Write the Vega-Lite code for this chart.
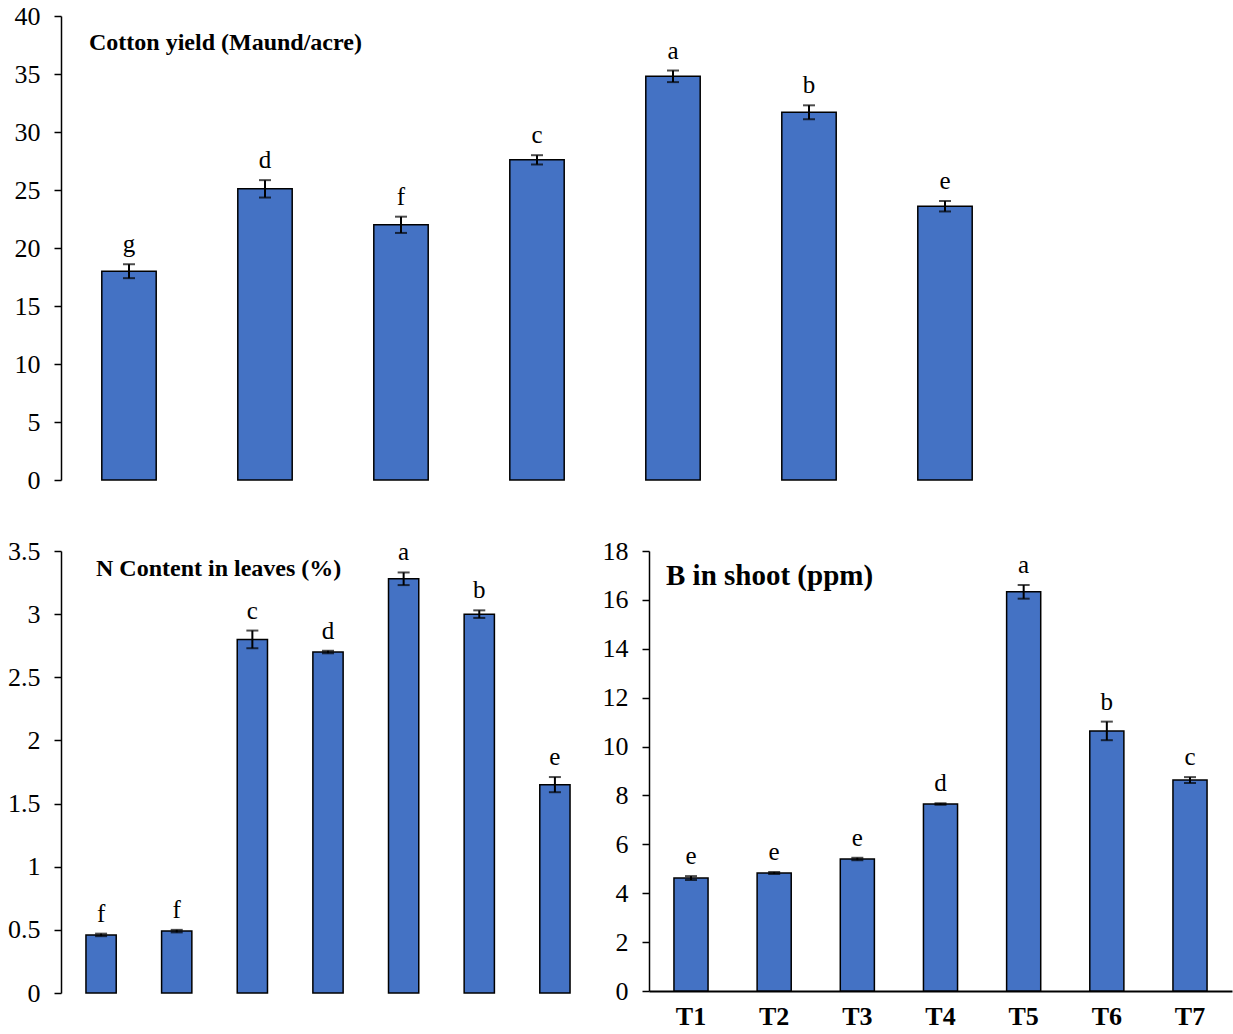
{
  "$schema": "https://vega.github.io/schema/vega-lite/v6.json",
  "background": "white",
  "padding": {"left": 5, "top": 3, "right": 5, "bottom": 5},
  "config": {
    "view": {"stroke": null},
    "font": "Liberation Serif",
    "axis": {"grid": false, "labelFont": "Liberation Serif", "labelColor": "black", "domainColor": "black", "tickColor": "black", "domainWidth": 1.5, "tickWidth": 1.5},
    "title": {"font": "Liberation Serif", "fontWeight": "bold", "color": "black", "anchor": "start", "frame": "group", "orient": "top"}
  },
  "spacing": 45,
  "vconcat": [
    {
      "width": 952,
      "height": 464,
      "title": {"text": "Cotton yield (Maund/acre)", "fontSize": 24, "dx": 28, "offset": -52},
      "data": {"values": [
        {"t": "T1", "v": 18.0, "e": 0.6, "l": "g"},
        {"t": "T2", "v": 25.1, "e": 0.75, "l": "d"},
        {"t": "T3", "v": 22.0, "e": 0.7, "l": "f"},
        {"t": "T4", "v": 27.6, "e": 0.4, "l": "c"},
        {"t": "T5", "v": 34.8, "e": 0.5, "l": "a"},
        {"t": "T6", "v": 31.7, "e": 0.6, "l": "b"},
        {"t": "T7", "v": 23.6, "e": 0.45, "l": "e"}
      ]},
      "transform": [{"calculate": "datum.v - datum.e", "as": "lo"}, {"calculate": "datum.v + datum.e", "as": "hi"}],
      "encoding": {
        "x": {"field": "t", "type": "nominal", "scale": {"paddingInner": 0.6, "paddingOuter": 0.3}, "axis": null}
      },
      "layer": [
        {"mark": {"type": "bar", "color": "#4472C4", "stroke": "black", "strokeWidth": 1.5},
         "encoding": {"y": {"field": "v", "type": "quantitative", "scale": {"domain": [0, 40]},
           "axis": {"title": null, "values": [0,5,10,15,20,25,30,35,40], "format": "~g", "labelFontSize": 26, "tickSize": 7, "labelPadding": 14, "minExtent": 56, "maxExtent": 56}}}},
        {"mark": {"type": "rule", "color": "black", "strokeWidth": 2},
         "encoding": {"y": {"field": "lo", "type": "quantitative"}, "y2": {"field": "hi"}}},
        {"mark": {"type": "tick", "color": "black", "size": 12, "thickness": 2},
         "encoding": {"y": {"field": "lo", "type": "quantitative"}}},
        {"mark": {"type": "tick", "color": "black", "size": 12, "thickness": 2},
         "encoding": {"y": {"field": "hi", "type": "quantitative"}}},
        {"mark": {"type": "text", "fontSize": 25, "baseline": "alphabetic", "dy": -12, "color": "black"},
         "encoding": {"y": {"field": "hi", "type": "quantitative"}, "text": {"field": "l"}}}
      ]
    },
    {
      "spacing": 7,
      "hconcat": [
        {
          "width": 534,
          "height": 442,
          "title": {"text": "N Content in leaves (%)", "fontSize": 24, "dx": 35, "offset": -43},
          "data": {"values": [
            {"t": "T1", "v": 0.46, "e": 0.01, "l": "f"},
            {"t": "T2", "v": 0.49, "e": 0.01, "l": "f"},
            {"t": "T3", "v": 2.80, "e": 0.07, "l": "c"},
            {"t": "T4", "v": 2.70, "e": 0.01, "l": "d"},
            {"t": "T5", "v": 3.28, "e": 0.05, "l": "a"},
            {"t": "T6", "v": 3.00, "e": 0.03, "l": "b"},
            {"t": "T7", "v": 1.65, "e": 0.06, "l": "e"}
          ]},
          "transform": [{"calculate": "datum.v - datum.e", "as": "lo"}, {"calculate": "datum.v + datum.e", "as": "hi"}],
          "encoding": {
            "x": {"field": "t", "type": "nominal", "scale": {"paddingInner": 0.6, "paddingOuter": 0.33}, "axis": null}
          },
          "layer": [
            {"mark": {"type": "bar", "color": "#4472C4", "stroke": "black", "strokeWidth": 1.5},
             "encoding": {"y": {"field": "v", "type": "quantitative", "scale": {"domain": [0, 3.5]},
               "axis": {"title": null, "values": [0,0.5,1,1.5,2,2.5,3,3.5], "format": "~g", "labelFontSize": 26, "tickSize": 7, "labelPadding": 14, "minExtent": 56, "maxExtent": 56}}}},
            {"mark": {"type": "rule", "color": "black", "strokeWidth": 2},
             "encoding": {"y": {"field": "lo", "type": "quantitative"}, "y2": {"field": "hi"}}},
            {"mark": {"type": "tick", "color": "black", "size": 12, "thickness": 2},
             "encoding": {"y": {"field": "lo", "type": "quantitative"}}},
            {"mark": {"type": "tick", "color": "black", "size": 12, "thickness": 2},
             "encoding": {"y": {"field": "hi", "type": "quantitative"}}},
            {"mark": {"type": "text", "fontSize": 25, "baseline": "alphabetic", "dy": -12, "color": "black"},
             "encoding": {"y": {"field": "hi", "type": "quantitative"}, "text": {"field": "l"}}}
          ]
        },
        {
          "width": 583,
          "height": 440,
          "title": {"text": "B in shoot (ppm)", "fontSize": 29, "dx": 17, "offset": -53},
          "data": {"values": [
            {"t": "T1", "v": 4.62, "e": 0.08, "l": "e"},
            {"t": "T2", "v": 4.83, "e": 0.04, "l": "e"},
            {"t": "T3", "v": 5.40, "e": 0.05, "l": "e"},
            {"t": "T4", "v": 7.65, "e": 0.03, "l": "d"},
            {"t": "T5", "v": 16.33, "e": 0.28, "l": "a"},
            {"t": "T6", "v": 10.64, "e": 0.38, "l": "b"},
            {"t": "T7", "v": 8.63, "e": 0.12, "l": "c"}
          ]},
          "transform": [{"calculate": "datum.v - datum.e", "as": "lo"}, {"calculate": "datum.v + datum.e", "as": "hi"}],
          "encoding": {
            "x": {"field": "t", "type": "nominal", "scale": {"paddingInner": 0.59, "paddingOuter": 0.3},
              "axis": {"title": null, "labelAngle": 0, "labelFontSize": 26, "labelFontWeight": "bold", "ticks": false, "labelPadding": 12, "domainWidth": 2}}
          },
          "layer": [
            {"mark": {"type": "bar", "color": "#4472C4", "stroke": "black", "strokeWidth": 1.5},
             "encoding": {"y": {"field": "v", "type": "quantitative", "scale": {"domain": [0, 18]},
               "axis": {"title": null, "values": [0,2,4,6,8,10,12,14,16,18], "labelFontSize": 26, "tickSize": 7, "labelPadding": 14, "minExtent": 45, "maxExtent": 45}}}},
            {"mark": {"type": "rule", "color": "black", "strokeWidth": 2},
             "encoding": {"y": {"field": "lo", "type": "quantitative"}, "y2": {"field": "hi"}}},
            {"mark": {"type": "tick", "color": "black", "size": 12, "thickness": 2},
             "encoding": {"y": {"field": "lo", "type": "quantitative"}}},
            {"mark": {"type": "tick", "color": "black", "size": 12, "thickness": 2},
             "encoding": {"y": {"field": "hi", "type": "quantitative"}}},
            {"mark": {"type": "text", "fontSize": 25, "baseline": "alphabetic", "dy": -12, "color": "black"},
             "encoding": {"y": {"field": "hi", "type": "quantitative"}, "text": {"field": "l"}}}
          ]
        }
      ]
    }
  ]
}
